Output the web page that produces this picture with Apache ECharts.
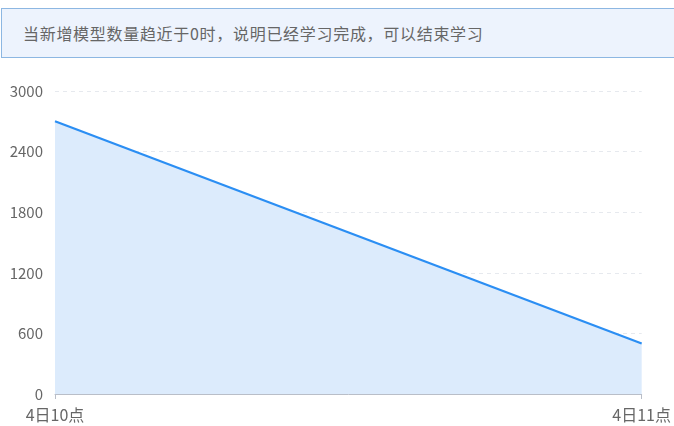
<!DOCTYPE html>
<html>
<head>
<meta charset="utf-8">
<script src="https://cdn.jsdelivr.net/npm/echarts@6/dist/echarts.min.js"></script>
<style>
  html, body { margin: 0; padding: 0; background: #fff; overflow: hidden; }
  .notice {
    position: absolute; left: 1px; top: 8px; width: 720px; height: 50px;
    box-sizing: border-box; border: 1px solid #8db7e2; background: #edf3fd;
    font-family: "Noto Sans CJK SC", sans-serif; font-size: 16px; color: #666;
    line-height: 48px; padding-left: 21px; letter-spacing: 0.7px;
  }
  #chart { position: absolute; left: 0; top: 60px; width: 674px; height: 366px; }
</style>
</head>
<body>
<div class="notice">当新增模型数量趋近于0时，说明已经学习完成，可以结束学习</div>
<div id="chart"></div>
<script>
const hours = ['4日10点', '4日11点'];
const newModels = [2700, 500];
const yTicks = [0, 600, 1200, 1800, 2400, 3000];

const chart = echarts.init(document.getElementById('chart'));
chart.setOption({
  animation: false,
  grid: { left: 55, right: 31, top: 31, bottom: 32 },
  xAxis: {
    type: 'category',
    data: hours,
    boundaryGap: false,
    axisLine: { lineStyle: { color: '#b9bec8' } },
    axisTick: { show: true, length: 5, lineStyle: { color: '#b9bec8' } },
    axisLabel: { color: '#666', fontSize: 16, fontFamily: '"Noto Sans CJK SC", sans-serif', margin: 13 }
  },
  yAxis: {
    type: 'value',
    min: yTicks[0],
    max: yTicks[yTicks.length - 1],
    interval: yTicks[1] - yTicks[0],
    axisLine: { show: false },
    axisTick: { show: false },
    axisLabel: {
      color: '#666', fontSize: 15, fontFamily: '"Noto Sans CJK SC", sans-serif', margin: 12,
      formatter: v => String(v)
    },
    splitLine: { lineStyle: { color: '#e6e9ee', type: [4, 4] } }
  },
  series: [{
    type: 'line',
    data: newModels,
    symbol: 'none',
    lineStyle: { color: '#2b8ef3', width: 2.2 },
    areaStyle: { color: '#dcebfc', opacity: 1 }
  }]
});
</script>
</body>
</html>
